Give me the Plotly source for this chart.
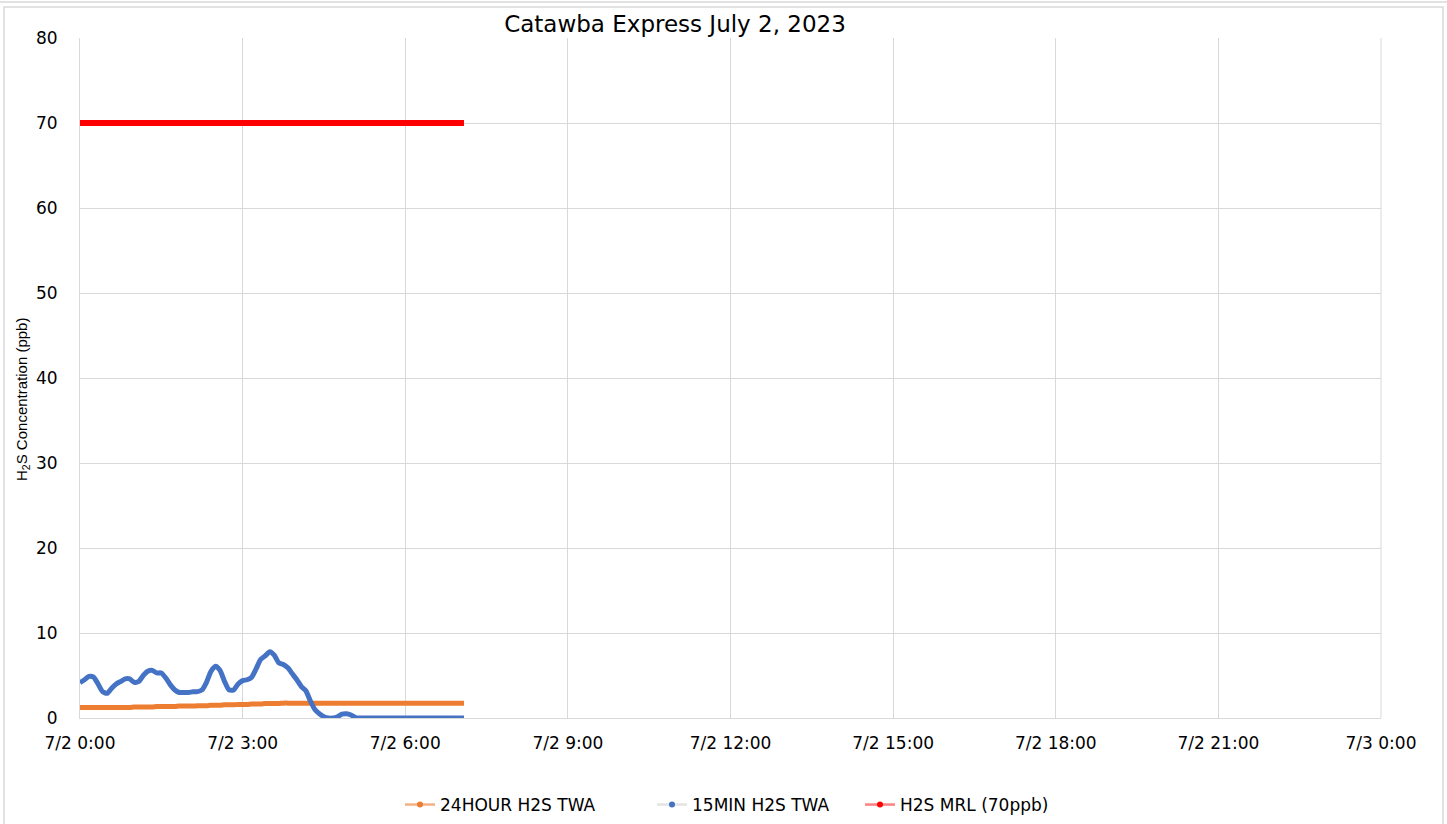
import pandas as pd
import plotly.graph_objects as go

# 5-minute readings, 7/2/2023 00:00 through 07:05
times = pd.date_range("2023-07-02 00:00", periods=86, freq="5min")

twa_15min = [
    4.15, 4.5, 4.9, 4.8, 4.0, 3.1, 2.9, 3.5, 4.0, 4.3, 4.6, 4.6,
    4.2, 4.3, 5.0, 5.5, 5.6, 5.3, 5.3, 4.7, 3.9, 3.3, 3.0, 3.0,
    3.0, 3.1, 3.1, 3.3, 4.2, 5.5, 6.1, 5.6, 4.3, 3.3, 3.3, 4.0,
    4.4, 4.5, 4.8, 5.8, 6.9, 7.3, 7.8, 7.4, 6.5, 6.3, 5.9, 5.2,
    4.5, 3.7, 3.2, 2.0, 1.0, 0.5, 0.15, 0.0, 0.0, 0.15, 0.45, 0.5,
    0.35, 0.05,
    0, 0, 0, 0, 0, 0, 0, 0, 0, 0, 0, 0,
    0, 0, 0, 0, 0, 0, 0, 0, 0, 0, 0, 0,
]

twa_24hour = [
    1.25, 1.25, 1.25, 1.25, 1.25, 1.25, 1.25, 1.25, 1.25, 1.25, 1.25, 1.25,
    1.3, 1.3, 1.3, 1.3, 1.3, 1.35, 1.35, 1.35, 1.35, 1.35, 1.4, 1.4,
    1.4, 1.4, 1.45, 1.45, 1.45, 1.5, 1.5, 1.5, 1.55, 1.55, 1.55, 1.6,
    1.6, 1.6, 1.65, 1.65, 1.65, 1.7, 1.7, 1.7, 1.7, 1.75, 1.75, 1.75,
] + [1.75] * 38

mrl_70ppb = [70] * 86

series_names = ["24HOUR H2S TWA", "15MIN H2S TWA", "H2S MRL (70ppb)"]
y_ticks = [0, 10, 20, 30, 40, 50, 60, 70, 80]

ORANGE = "#ED7D31"
BLUE = "#4472C4"
RED = "#FF0000"
GRID = "#D9D9D9"
FONT = "DejaVu Sans, Open Sans, sans-serif"

fig = go.Figure()

# plotted series (legend entries are added separately below)
fig.add_trace(go.Scatter(x=times, y=mrl_70ppb, mode="lines",
                         line=dict(color=RED, width=6), showlegend=False))
fig.add_trace(go.Scatter(x=times, y=twa_24hour, mode="lines",
                         line=dict(color=ORANGE, width=5, shape="spline", smoothing=0.6),
                         showlegend=False))
fig.add_trace(go.Scatter(x=times, y=twa_15min, mode="lines",
                         line=dict(color=BLUE, width=5, shape="spline", smoothing=0.6),
                         showlegend=False))

L, R, T, B = 80, 66, 38, 106
W, H = 1447, 824
pw, ph = W - L - R, H - T - B


def px_x(x):
    return (x - L) / pw


def px_y(y):
    return (H - B - y) / ph


# legend entries: pale line with a dot marker, each in its own legend box
legend_style = [
    (series_names[0], "#F4B183", ORANGE, "legend", 400),
    (series_names[1], "#E4E4E4", BLUE, "legend2", 652),
    (series_names[2], "#FF8080", RED, "legend3", 860),
]
legend_boxes = {}
for name, line_col, marker_col, key, left_px in legend_style:
    fig.add_trace(go.Scatter(x=[None], y=[None], mode="lines+markers", name=name,
                             legend=key,
                             line=dict(color=line_col, width=2.5),
                             marker=dict(color=marker_col, size=6)))
    legend_boxes[key] = dict(orientation="h", x=px_x(left_px), xanchor="left",
                             y=px_y(805), yanchor="middle",
                             bgcolor="rgba(0,0,0,0)",
                             font=dict(family=FONT, size=17), itemwidth=30)

fig.update_layout(
    width=W, height=H,
    margin=dict(l=L, r=R, t=T, b=B, autoexpand=False),
    paper_bgcolor="white", plot_bgcolor="white",
    font=dict(family=FONT, size=16, color="#000000"),
    title=dict(text="Catawba Express July 2, 2023", x=675 / W, xanchor="center",
               y=1 - 24 / H, yanchor="middle",
               font=dict(family=FONT, size=23, color="#000000")),
    xaxis=dict(
        range=["2023-07-02 00:00", "2023-07-03 00:00"],
        tickmode="linear", tick0="2023-07-02 00:00", dtick=3 * 3600 * 1000,
        tickformat="%-m/%-d %-H:%M",
        showgrid=True, gridcolor=GRID, gridwidth=1,
        showline=True, linecolor=GRID, linewidth=1,
        ticks="outside", ticklen=10, tickcolor="rgba(0,0,0,0)",
        zeroline=False,
        tickfont=dict(size=17),
    ),
    yaxis=dict(
        range=[0, 80], tickvals=y_ticks,
        showgrid=True, gridcolor=GRID, gridwidth=1,
        showline=True, linecolor=GRID, linewidth=1,
        ticks="outside", ticklen=18, tickcolor="rgba(0,0,0,0)",
        zeroline=False,
        tickfont=dict(size=17),
    ),
    annotations=[
        dict(text="H<sub>2</sub>S Concentration (ppb)", textangle=-90,
             xref="paper", yref="paper", x=px_x(22), y=px_y(399),
             xanchor="center", yanchor="middle", showarrow=False,
             font=dict(family="Liberation Sans Narrow, Liberation Sans, sans-serif",
                       size=15, color="#000000")),
    ],
    shapes=[
        # right edge of plot area
        dict(type="line", xref="paper", yref="paper", x0=1, x1=1, y0=0, y1=1,
             line=dict(color=GRID, width=1)),
        # chart frame
        dict(type="rect", xref="paper", yref="paper",
             x0=px_x(4), x1=px_x(1443), y0=px_y(830), y1=px_y(7),
             line=dict(color=GRID, width=1.5), layer="below"),
        dict(type="line", xref="paper", yref="paper",
             x0=px_x(0), x1=px_x(1447), y0=px_y(2), y1=px_y(2),
             line=dict(color=GRID, width=1.5), layer="below"),
    ],
    **legend_boxes,
)

fig.write_html("out.html")
